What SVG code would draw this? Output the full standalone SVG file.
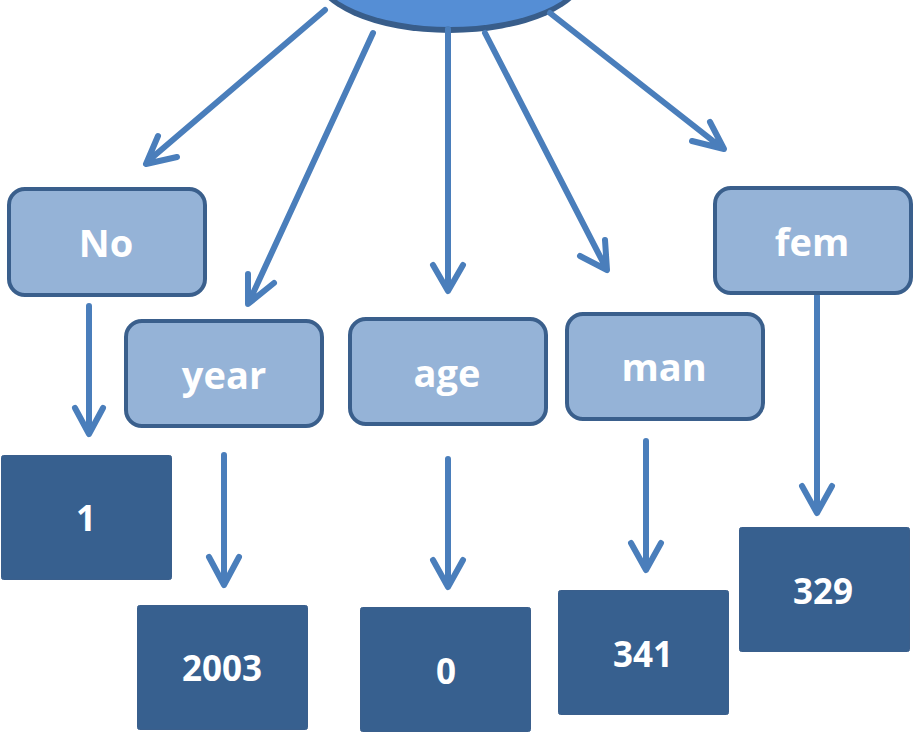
<svg xmlns="http://www.w3.org/2000/svg" width="924" height="736" viewBox="0 0 924 736">
  <style>
    .attr rect { fill: #95b3d7; stroke: #3a5f8c; stroke-width: 4; }
    .val rect { fill: #37608f; stroke: #3a5f8c; stroke-width: 1; }
    text { font-family: "Open Sans", "Liberation Sans", sans-serif; font-weight: bold; fill: #ffffff; text-anchor: middle; }
    .attr text { font-size: 38px; }
    .val text { font-size: 35px; }
    .edge { fill: none; stroke: #4a7ebb; stroke-width: 6; stroke-linecap: round; stroke-linejoin: round; }
  </style>

  <!-- root ellipse, partly above the top edge -->
  <g id="root">
    <ellipse cx="450" cy="-27" rx="136" ry="60" fill="#385d8a"/>
    <ellipse cx="450" cy="-31" rx="134" ry="58" fill="#558ed5"/>
  </g>

  <!-- connectors -->
  <g id="connectors">
    <path class="edge" d="M325 10 L147 162 M158 136 L146 164 L177 157"/>
    <path class="edge" d="M373 33 L249 302 M248 274 L248 304 L274 283"/>
    <path class="edge" d="M448 29 L448 290 M433 265 L448 291 L463 265"/>
    <path class="edge" d="M485 33 L606 268 M580 256 L607 270 L605 240"/>
    <path class="edge" d="M550 13 L722 148 M692 141 L724 149 L710 122"/>
    <path class="edge" d="M89 306 L89 433 M75 408 L89 434 L103 408"/>
    <path class="edge" d="M224 455 L224 584 M209 557 L224 585 L239 557"/>
    <path class="edge" d="M448 459 L448 586 M433 560 L448 587 L463 560"/>
    <path class="edge" d="M646 441 L646 569 M631 543 L646 570 L661 543"/>
    <path class="edge" d="M817 296 L817 512 M802 486 L817 513 L832 486"/>
  </g>

  <!-- attribute boxes -->
  <g id="n-no" class="attr"><rect x="9" y="189" width="196" height="106" rx="16"/><text x="106" y="257">No</text></g>
  <g id="n-year" class="attr"><rect x="126" y="321" width="196" height="105" rx="16"/><text x="224" y="389">year</text></g>
  <g id="n-age" class="attr"><rect x="350" y="319" width="196" height="105" rx="16"/><text x="447" y="387">age</text></g>
  <g id="n-man" class="attr"><rect x="567" y="314" width="196" height="105" rx="16"/><text x="664" y="381">man</text></g>
  <g id="n-fem" class="attr"><rect x="715" y="188" width="196" height="105" rx="16"/><text x="812" y="256">fem</text></g>

  <!-- value boxes -->
  <g id="v-1" class="val"><rect x="1.5" y="455.5" width="170" height="124" rx="2"/><text x="86" y="531">1</text></g>
  <g id="v-2003" class="val"><rect x="137.5" y="605.5" width="170" height="124" rx="2"/><text x="222" y="681">2003</text></g>
  <g id="v-0" class="val"><rect x="360.5" y="607.5" width="170" height="124" rx="2"/><text x="446" y="684">0</text></g>
  <g id="v-341" class="val"><rect x="558.5" y="590.5" width="170" height="124" rx="2"/><text x="643" y="667">341</text></g>
  <g id="v-329" class="val"><rect x="739.5" y="527.5" width="170" height="124" rx="2"/><text x="823" y="604">329</text></g>
</svg>
